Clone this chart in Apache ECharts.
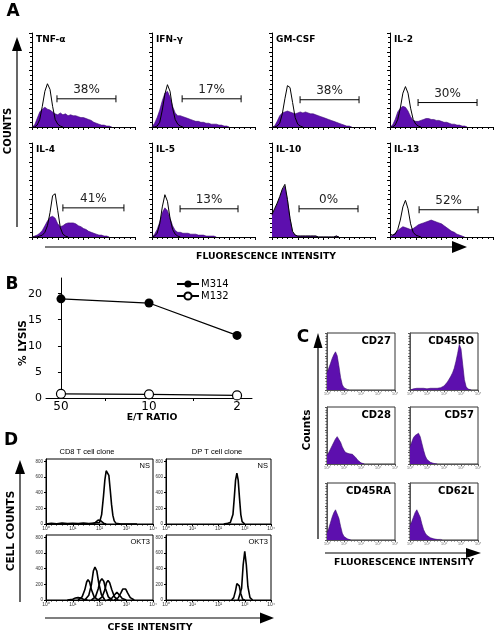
<!DOCTYPE html>
<html><head><meta charset="utf-8">
<script src="https://cdn.jsdelivr.net/npm/echarts@6/dist/echarts.min.js"></script>
<style>html,body{margin:0;padding:0;background:#fff}#c{width:498px;height:635px}</style>
</head><body><div id="c"></div>
<script>
// ---------- DATA ----------
const histBins = [0,0.1,0.2,0.3,0.4,0.5,0.6,0.7,0.8,0.9,1,1.1,1.2,1.3,1.4,1.5,1.6,1.7,1.8,1.9,2,2.1,2.2,2.3,2.4,2.5,2.6,2.7,2.8,2.9,3,3.1,3.2,3.3,3.4,3.5,3.6,3.7,3.8,3.9,4];
const logTickLabels = ['10⁰','10¹','10²','10³','10⁴'];

// Panel A: cytokine staining (stained = filled, control = open), % of max
const cytokineNames = ['TNF-α','IFN-γ','GM-CSF','IL-2','IL-4','IL-5','IL-10','IL-13'];
const tnfStained = [0,2,9,16,19,21,19,18,16,14,13,15,13,14,12,13,12,12,11,10,10,9,8,7,5,4,3,2,2,1,1,0];
const tnfControl = [0,0,2,8,22,38,46,40,22,8,3,1,0];
const ifnStained = [0,4,10,18,28,36,38,32,22,15,12,12,11,10,9,8,7,6,6,5,5,4,4,3,3,3,2,2,1,1,0];
const ifnControl = [0,0,1,5,18,35,45,38,20,8,3,1,0];
const gmcsfStained = [0,1,6,12,15,16,17,16,15,14,15,16,15,16,15,14,14,13,12,11,10,9,8,7,6,5,4,3,2,1,1,0];
const gmcsfControl = [0,0,1,4,14,30,44,42,26,10,3,1,0];
const il2Stained = [0,2,8,16,20,22,21,17,11,7,6,6,7,8,9,9,8,8,7,7,6,5,5,4,3,3,2,2,1,1,0];
const il2Control = [0,0,2,8,20,36,43,36,20,8,3,1,0];
const il4Stained = [0,1,2,4,7,12,17,21,22,20,14,11,12,14,15,15,15,14,12,11,9,8,6,5,4,3,2,2,1,1,0];
const il4Control = [0,0,0,1,2,5,12,26,44,46,28,10,3,1,0];
const il5Stained = [0,3,8,16,26,31,28,20,12,7,5,5,4,4,4,3,3,3,2,2,2,1,1,1,1,0];
const il5Control = [0,1,4,14,32,45,38,20,8,3,1,0];
const il10Stained = [23,29,35,42,50,54,39,19,5,2,1,1,1,1,1,1,1,1,0,0,0,0,0,0,0,1,0];
const il10Control = [24,30,36,43,51,56,40,20,6,2,1,1,1,1,1,1,1,1,0,0,0,0,0,0,0,1,0];
const il13Stained = [0,2,4,7,9,11,10,9,8,9,11,13,14,15,16,17,18,17,16,15,14,12,10,8,6,5,3,2,1,0];
const il13Control = [3,2,3,8,18,32,39,30,14,5,2,1,0];
const pctLabels = ['38%','17%','38%','30%','41%','13%','0%','52%'];
const gateStart = [0.97,1.17,1.09,1.09,1.2,1.09,1.05,1.13];
const gateEnd   = [3.26,3.46,3.38,3.38,3.57,3.34,3.34,3.42];
const gateLevel = [30,30,29,26,31,30,30,29];

// Panel B: lysis
const etRatios = ['50','10','2'];
const lysisM314 = [19,18.2,12];
const lysisM132 = [0.8,0.7,0.5];
const lysisTicks = [0,5,10,15,20];

// Panel C: surface markers
const markerNames = ['CD27','CD45RO','CD28','CD57','CD45RA','CD62L'];
const cd27 = [30,38,46,55,62,67,60,42,22,9,4,2,1,0];
const cd45ro = [0,1,2,2,3,2,3,2,3,2,2,3,3,2,3,3,3,4,4,5,7,10,14,19,24,30,38,50,64,80,72,45,18,6,2,1,0];
const cd28 = [15,20,26,32,38,44,48,45,38,30,24,20,19,18,18,17,15,11,7,4,2,1,0];
const cd57 = [30,38,46,50,52,54,48,36,24,14,8,5,3,2,1,1,0];
const cd45ra = [12,20,30,40,48,53,50,38,24,12,6,3,2,1,0];
const cd62l = [25,32,40,48,53,50,40,28,18,12,8,6,4,3,2,2,1,1,1,0];

// Panel D: CFSE dilution (x = log10 intensity, y = cell counts)
const cd8NS = [[0,0],[0.2,10],[0.4,4],[0.6,12],[0.8,6],[1.0,10],[1.2,5],[1.4,12],[1.6,6],[1.8,12],[2.0,20],[2.08,120],[2.15,360],[2.2,560],[2.25,680],[2.3,700],[2.35,620],[2.4,440],[2.45,250],[2.5,110],[2.55,40],[2.62,8],[2.8,0],[3.4,0]];
const cd8NSminor = [[1.7,0],[1.85,20],[1.95,50],[2.05,40],[2.15,10],[2.25,0]];
const cd8OKT3 = [
  [[0.8,0],[1.0,10],[1.1,25],[1.2,30],[1.3,25],[1.4,10],[1.55,0]],
  [[1.2,0],[1.35,40],[1.45,130],[1.52,230],[1.57,260],[1.63,230],[1.7,130],[1.8,40],[1.95,0]],
  [[1.45,0],[1.6,60],[1.7,200],[1.77,370],[1.83,420],[1.9,370],[1.97,220],[2.07,70],[2.2,0]],
  [[1.7,0],[1.85,40],[1.95,140],[2.02,240],[2.09,270],[2.16,240],[2.23,140],[2.33,40],[2.48,0]],
  [[1.95,0],[2.1,40],[2.2,130],[2.26,220],[2.32,250],[2.38,220],[2.46,130],[2.56,40],[2.7,0]],
  [[2.3,0],[2.45,20],[2.55,60],[2.65,100],[2.75,60],[2.85,20],[3.0,0]],
  [[2.55,0],[2.7,30],[2.8,90],[2.87,140],[2.92,150],[2.98,140],[3.05,90],[3.15,30],[3.3,0]]
];
const dpNS = [[2.2,0],[2.35,10],[2.45,20],[2.5,40],[2.55,120],[2.6,330],[2.65,560],[2.7,650],[2.75,560],[2.8,330],[2.85,120],[2.9,30],[3.0,0]];
const dpOKT3 = [
  [[2.5,0],[2.58,30],[2.65,120],[2.7,210],[2.74,230],[2.79,180],[2.85,80],[2.92,10],[3.0,0]],
  [[2.75,0],[2.82,20],[2.88,150],[2.94,450],[3.0,620],[3.06,450],[3.12,170],[3.2,30],[3.3,0]]
];
const countTicks = [0,200,400,600,800];

// ---------- BUILD ----------
const FONT = '"DejaVu Sans"';
const PURPLE = '#5d0fae';
const grids = [], xAxes = [], yAxes = [], series = [], graphics = [];
function addGrid(g, x, y) {
  grids.push(Object.assign({containLabel:false}, g));
  const i = grids.length - 1;
  xAxes.push(Object.assign({gridIndex:i}, x));
  yAxes.push(Object.assign({gridIndex:i}, y));
  return i;
}
const zip = arr => arr.map((v, k) => [histBins[k], v]);
const blk = {color:'#000', width:1};

// Panel A
const aStained = [tnfStained, ifnStained, gmcsfStained, il2Stained, il4Stained, il5Stained, il10Stained, il13Stained];
const aControl = [tnfControl, ifnControl, gmcsfControl, il2Control, il4Control, il5Control, il10Control, il13Control];
const aLeft = [32,152,272,390], aTop = [33,143];
for (let i = 0; i < 8; i++) {
  const left = aLeft[i % 4], top = aTop[Math.floor(i / 4)];
  const g = addGrid({left, top, width:103, height:94},
    {type:'value', min:0, max:4, interval:1, axisLine:{lineStyle:blk}, axisTick:{length:3, lineStyle:blk},
     minorTick:{show:true, splitNumber:5, length:2, lineStyle:blk}, axisLabel:{show:false}, splitLine:{show:false}},
    {type:'value', min:0, max:100, interval:20, axisLine:{show:true, lineStyle:blk}, axisTick:{show:true, length:3, lineStyle:blk},
     minorTick:{show:true, splitNumber:4, length:2, lineStyle:blk}, axisLabel:{show:false}, splitLine:{show:false}});
  series.push({type:'line', xAxisIndex:g, yAxisIndex:g, data:zip(aStained[i]), showSymbol:false, silent:true,
    lineStyle:{color:'#3a0a72', width:0.6}, areaStyle:{color:PURPLE, opacity:1}});
  series.push({type:'line', xAxisIndex:g, yAxisIndex:g, data:zip(aControl[i]), showSymbol:false, silent:true,
    lineStyle:{color:'#000', width:1}});
  const lbl = pctLabels[i];
  series.push({type:'custom', xAxisIndex:g, yAxisIndex:g, coordinateSystem:'cartesian2d', silent:true,
    data:[[gateStart[i], gateEnd[i], gateLevel[i]]],
    renderItem:(params, api) => {
      const p1 = api.coord([api.value(0), api.value(2)]);
      const p2 = api.coord([api.value(1), api.value(2)]);
      const st = {stroke:'#000', lineWidth:1};
      return {type:'group', children:[
        {type:'line', shape:{x1:p1[0], y1:p1[1]-3.5, x2:p1[0], y2:p1[1]+3.5}, style:st},
        {type:'line', shape:{x1:p1[0], y1:p1[1], x2:p2[0], y2:p2[1]}, style:st},
        {type:'line', shape:{x1:p2[0], y1:p2[1]-3.5, x2:p2[0], y2:p2[1]+3.5}, style:st},
        {type:'text', style:{text:lbl, x:(p1[0]+p2[0])/2, y:p1[1]-3, font:'12px '+FONT, fill:'#222',
          textAlign:'center', align:'center', textVerticalAlign:'bottom', verticalAlign:'bottom'}}
      ]};
    }});
  graphics.push({type:'text', x:left+4, y:top+7, style:{text:cytokineNames[i], font:'bold 9px '+FONT, fill:'#000',
    textAlign:'left', align:'left', textVerticalAlign:'middle', verticalAlign:'middle'}});
}

// Panel B
const gB = addGrid({left:46, top:278, width:206, height:120},
  {type:'value', min:-0.17, max:2.17, axisLine:{lineStyle:blk}, splitLine:{show:false},
   axisTick:{show:true, customValues:[0.5,1.5], length:3, lineStyle:blk},
   axisLabel:{customValues:[0,1,2], formatter:v => etRatios[Math.round(v)], fontSize:12, fontFamily:FONT, color:'#000', margin:3}},
  {type:'value', min:0, max:23, axisLine:{show:true, lineStyle:blk}, splitLine:{show:false},
   axisTick:{show:true, customValues:lysisTicks, length:3, lineStyle:blk},
   axisLabel:{customValues:lysisTicks, fontSize:11, fontFamily:FONT, color:'#000', margin:4}});
series.push({name:'M314', type:'line', xAxisIndex:gB, yAxisIndex:gB, data:lysisM314.map((v,k)=>[k,v]),
  symbol:'circle', symbolSize:9, lineStyle:{color:'#000', width:1.2}, itemStyle:{color:'#000'}});
series.push({name:'M132', type:'line', xAxisIndex:gB, yAxisIndex:gB, data:lysisM132.map((v,k)=>[k,v]),
  symbol:'circle', symbolSize:9, lineStyle:{color:'#000', width:1.2}, itemStyle:{color:'#fff', borderColor:'#000', borderWidth:1.2}});

// Panel C
const cData = [cd27, cd45ro, cd28, cd57, cd45ra, cd62l];
const cLeft = [327,410], cTop = [333,407,483];
for (let i = 0; i < 6; i++) {
  const left = cLeft[i % 2], top = cTop[Math.floor(i / 2)];
  const g = addGrid({left, top, width:68, height:57, show:true, borderColor:'#333', borderWidth:1},
    {type:'value', min:0, max:4, interval:1, axisLine:{lineStyle:{color:'#555'}}, axisTick:{length:2, lineStyle:{color:'#555'}},
     minorTick:{show:true, splitNumber:5, length:1.5, lineStyle:{color:'#555'}},
     axisLabel:{fontSize:4, color:'#777', margin:2, formatter:v => logTickLabels[v]}, splitLine:{show:false}},
    {type:'value', min:0, max:100, interval:20, axisLine:{show:true, lineStyle:{color:'#555'}}, axisTick:{show:true, length:2, lineStyle:{color:'#555'}},
     minorTick:{show:true, splitNumber:4, length:1.5, lineStyle:{color:'#555'}}, axisLabel:{show:false}, splitLine:{show:false}});
  series.push({type:'line', xAxisIndex:g, yAxisIndex:g, data:zip(cData[i]), showSymbol:false, silent:true,
    lineStyle:{color:'#3a0a72', width:0.6}, areaStyle:{color:PURPLE, opacity:1}});
  graphics.push({type:'text', x:left+64, y:top+8, style:{text:markerNames[i], font:'bold 10px '+FONT, fill:'#000',
    textAlign:'right', align:'right', textVerticalAlign:'middle', verticalAlign:'middle'}});
}

// Panel D
const dPanels = [
  {left:46, top:459, w:107, curves:[cd8NS, cd8NSminor], tag:'NS'},
  {left:166, top:459, w:105, curves:[dpNS], tag:'NS'},
  {left:46, top:535, w:107, curves:cd8OKT3, tag:'OKT3'},
  {left:166, top:535, w:105, curves:dpOKT3, tag:'OKT3'}
];
dPanels.forEach(p => {
  const g = addGrid({left:p.left, top:p.top, width:p.w, height:65, show:true, borderColor:'#000', borderWidth:1},
    {type:'value', min:0, max:4, interval:1, axisLine:{lineStyle:blk}, axisTick:{length:2, lineStyle:blk},
     minorTick:{show:true, splitNumber:5, length:1.5, lineStyle:blk},
     axisLabel:{fontSize:5, color:'#333', margin:2, formatter:v => logTickLabels[v], fontFamily:'"Liberation Sans"'}, splitLine:{show:false}},
    {type:'value', min:0, max:830, axisLine:{show:true, lineStyle:blk}, splitLine:{show:false},
     axisTick:{show:true, customValues:countTicks, length:2, lineStyle:blk},
     axisLabel:{customValues:countTicks, fontSize:4.5, color:'#333', margin:3, fontFamily:'"Liberation Sans"'}});
  p.curves.forEach(c => series.push({type:'line', xAxisIndex:g, yAxisIndex:g, data:c, showSymbol:false, silent:true,
    lineStyle:{color:'#000', width:1.6}}));
  graphics.push({type:'text', x:p.left+p.w-3, y:p.top+7, style:{text:p.tag, font:'7.5px "Liberation Sans"', fill:'#000',
    textAlign:'right', align:'right', textVerticalAlign:'middle', verticalAlign:'middle'}});
});

// Decorations: arrows and titles
function txt(x, y, text, font, opts) {
  return Object.assign({type:'text', x, y, style:{text, font, fill:'#000', textAlign:'center', align:'center',
    textVerticalAlign:'middle', verticalAlign:'middle'}}, opts || {});
}
function arrowUp(x, yTip, yEnd, hl, hw) {
  return [{type:'line', shape:{x1:x, y1:yTip+hl-1, x2:x, y2:yEnd}, style:{stroke:'#000', lineWidth:1.2}},
          {type:'polygon', shape:{points:[[x,yTip],[x-hw,yTip+hl],[x+hw,yTip+hl]]}, style:{fill:'#000'}}];
}
function arrowRight(y, xStart, xTip, hl, hw) {
  return [{type:'line', shape:{x1:xStart, y1:y, x2:xTip-hl+1, y2:y}, style:{stroke:'#000', lineWidth:1.2}},
          {type:'polygon', shape:{points:[[xTip,y],[xTip-hl,y-hw],[xTip-hl,y+hw]]}, style:{fill:'#000'}}];
}
graphics.push(txt(13, 12, 'A', 'bold 17px '+FONT));
graphics.push(txt(12, 285, 'B', 'bold 17px '+FONT));
graphics.push(txt(303, 338, 'C', 'bold 17px '+FONT));
graphics.push(txt(11, 441, 'D', 'bold 17px '+FONT));
graphics.push(...arrowUp(17, 37, 227, 14, 5));
graphics.push(txt(8, 131, 'COUNTS', 'bold 10px '+FONT, {rotation:Math.PI/2}));
graphics.push(...arrowRight(247, 45, 467, 15, 6));
graphics.push(txt(266, 257, 'FLUORESCENCE INTENSITY', 'bold 9.3px '+FONT));
graphics.push(txt(23, 343, '% LYSIS', 'bold 10.5px '+FONT, {rotation:Math.PI/2}));
graphics.push(txt(152, 418, 'E/T RATIO', 'bold 9.3px '+FONT));
graphics.push(...arrowUp(318, 333, 539, 15, 4.5));
graphics.push(txt(307, 430, 'Counts', 'bold 10.5px '+FONT, {rotation:Math.PI/2}));
graphics.push(...arrowRight(553, 325, 481, 15, 5));
graphics.push(txt(404, 563, 'FLUORESCENCE INTENSITY', 'bold 9.3px '+FONT));
graphics.push(txt(87, 452, 'CD8 T cell clone', '7.5px "Liberation Sans"'));
graphics.push(txt(217, 452, 'DP T cell clone', '7.5px "Liberation Sans"'));
graphics.push(...arrowUp(20, 460, 602, 14, 5));
graphics.push(txt(11, 531, 'CELL COUNTS', 'bold 10.5px '+FONT, {rotation:Math.PI/2}));
graphics.push(...arrowRight(618, 45, 274, 14, 5.5));
graphics.push(txt(150, 628, 'CFSE INTENSITY', 'bold 9.4px '+FONT));

const chart = echarts.init(document.getElementById('c'), null, {renderer:'canvas'});
chart.setOption({
  animation:false,
  backgroundColor:'#fff',
  textStyle:{fontFamily:FONT},
  grid:grids, xAxis:xAxes, yAxis:yAxes, series,
  legend:{data:['M314','M132'], orient:'vertical', left:176, top:279, itemWidth:22, itemHeight:9, itemGap:2, padding:0,
    textStyle:{fontSize:10, fontFamily:FONT, color:'#000', padding:[0,0,0,-3]}},
  graphic:{elements:graphics}
});
</script>
</body></html>
